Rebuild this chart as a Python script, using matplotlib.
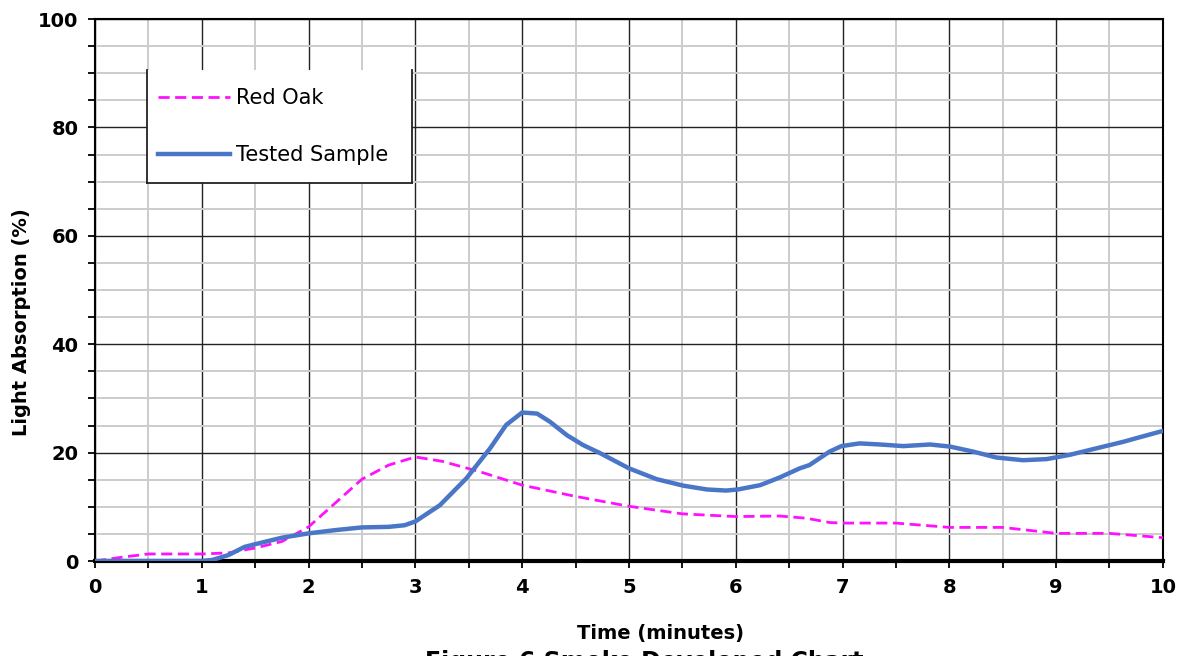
import numpy as np
import matplotlib.pyplot as plt
from matplotlib.ticker import MultipleLocator
from matplotlib.patches import Rectangle
from matplotlib.lines import Line2D

plt.rcParams['font.family'] = ['DejaVu Sans']

# Red Oak reference curve (dashed)
oak_t = [0, 0.25, 0.5, 1, 1.25, 1.5, 1.75, 2, 2.25, 2.5, 2.75, 3, 3.25, 3.6, 4, 4.48,
         5, 5.5, 6, 6.41, 6.66, 6.88, 7, 7.5, 8, 8.5, 9, 9.5, 10]
oak_v = [0, 0.7, 1.3, 1.3, 1.5, 2.4, 3.6, 6.3, 10.7, 15.1, 17.7, 19.2, 18.4, 16.5, 14.0, 12.0,
         10.1, 8.7, 8.2, 8.3, 7.9, 7.1, 7.0, 7.0, 6.2, 6.2, 5.1, 5.1, 4.3]

# Tested sample curve (solid)
smp_t = [0, 1, 1.1, 1.25, 1.4, 1.5, 1.75, 2, 2.25, 2.5, 2.75, 2.9, 3, 3.23, 3.48,
         3.7, 3.85, 4, 4.14, 4.26, 4.42, 4.57, 4.73, 5, 5.26, 5.51, 5.73, 5.91, 6.02,
         6.23, 6.41, 6.6, 6.69, 6.88, 6.99, 7.16, 7.35, 7.57, 7.82, 8.01, 8.22, 8.44,
         8.69, 8.91, 9.13, 9.38, 9.63, 9.85, 10]
smp_v = [0, 0, 0.2, 1.1, 2.6, 3.1, 4.3, 5.1, 5.7, 6.2, 6.3, 6.6, 7.3, 10.3, 15.3,
         20.8, 25.1, 27.4, 27.2, 25.7, 23.2, 21.4, 19.9, 17.1, 15.1, 13.9, 13.2, 13.0, 13.2,
         14.0, 15.4, 17.1, 17.7, 20.2, 21.2, 21.7, 21.5, 21.2, 21.5, 21.1, 20.2, 19.1,
         18.6, 18.8, 19.6, 20.8, 22.0, 23.2, 24.0]

fig = plt.figure(figsize=(11.83, 6.56), dpi=100)
ax = fig.add_axes([0.0803, 0.1448, 0.9027, 0.8262])

ax.plot(oak_t, oak_v, color='#ff11ff', lw=2.0, ls=(0, (4, 2)), zorder=3, label='Red Oak')
ax.plot(smp_t, smp_v, color='#4a76c8', lw=3.2, zorder=4, label='Tested Sample',
        solid_joinstyle='round')

ax.set_xlim(0, 10)
ax.set_ylim(0, 100)
ax.xaxis.set_major_locator(MultipleLocator(1))
ax.xaxis.set_minor_locator(MultipleLocator(0.5))
ax.yaxis.set_major_locator(MultipleLocator(20))
ax.yaxis.set_minor_locator(MultipleLocator(5))
ax.grid(which='minor', color='#cccccc', lw=1.4, zorder=0)
ax.grid(which='major', color='#222222', lw=1.0, zorder=1)
ax.set_axisbelow(True)

ax.tick_params(which='both', direction='out', length=5, width=1.3, color='black')
ax.tick_params(labelsize=14, pad=7)
for lab in ax.get_xticklabels() + ax.get_yticklabels():
    lab.set_fontweight('bold')
for s in ['left', 'top', 'right']:
    ax.spines[s].set_linewidth(1.5)
ax.spines['bottom'].set_linewidth(3)

ax.set_xlabel('Time (minutes)', fontsize=14, fontweight='bold', va='center')
ax.xaxis.set_label_coords(0.53, -0.133)
ax.set_ylabel('Light Absorption (%)', fontsize=14, fontweight='bold', va='center')
ax.yaxis.set_label_coords(-0.0684, 0.441)

# legend box (open at top)
x0, x1, yb, yt = 0.0487, 0.2968, 0.697, 0.906
ax.add_patch(Rectangle((x0, yb), x1 - x0, yt - yb, transform=ax.transAxes,
                       facecolor='white', edgecolor='none', zorder=5))
for xs, ys in [([x0, x0], [yb, yt]), ([x1, x1], [yb, yt]), ([x0, x1], [yb, yb])]:
    ax.add_line(Line2D(xs, ys, transform=ax.transAxes, color='#222222', lw=1.3, zorder=6))
leg = ax.legend(loc='upper left', bbox_to_anchor=(0.059, 0.872), frameon=False,
                fontsize=15, handlelength=3.45, handletextpad=0.3, labelspacing=1.75,
                borderpad=0, borderaxespad=0)
leg.set_zorder(7)

# caption, cut off at the bottom edge as in the source
fig.text(0.545, 1 - 650 / 656, 'Figure 6 Smoke Developed Chart', ha='center', va='top',
         fontsize=17, fontweight='bold')

fig.savefig('out.png', dpi=100)
